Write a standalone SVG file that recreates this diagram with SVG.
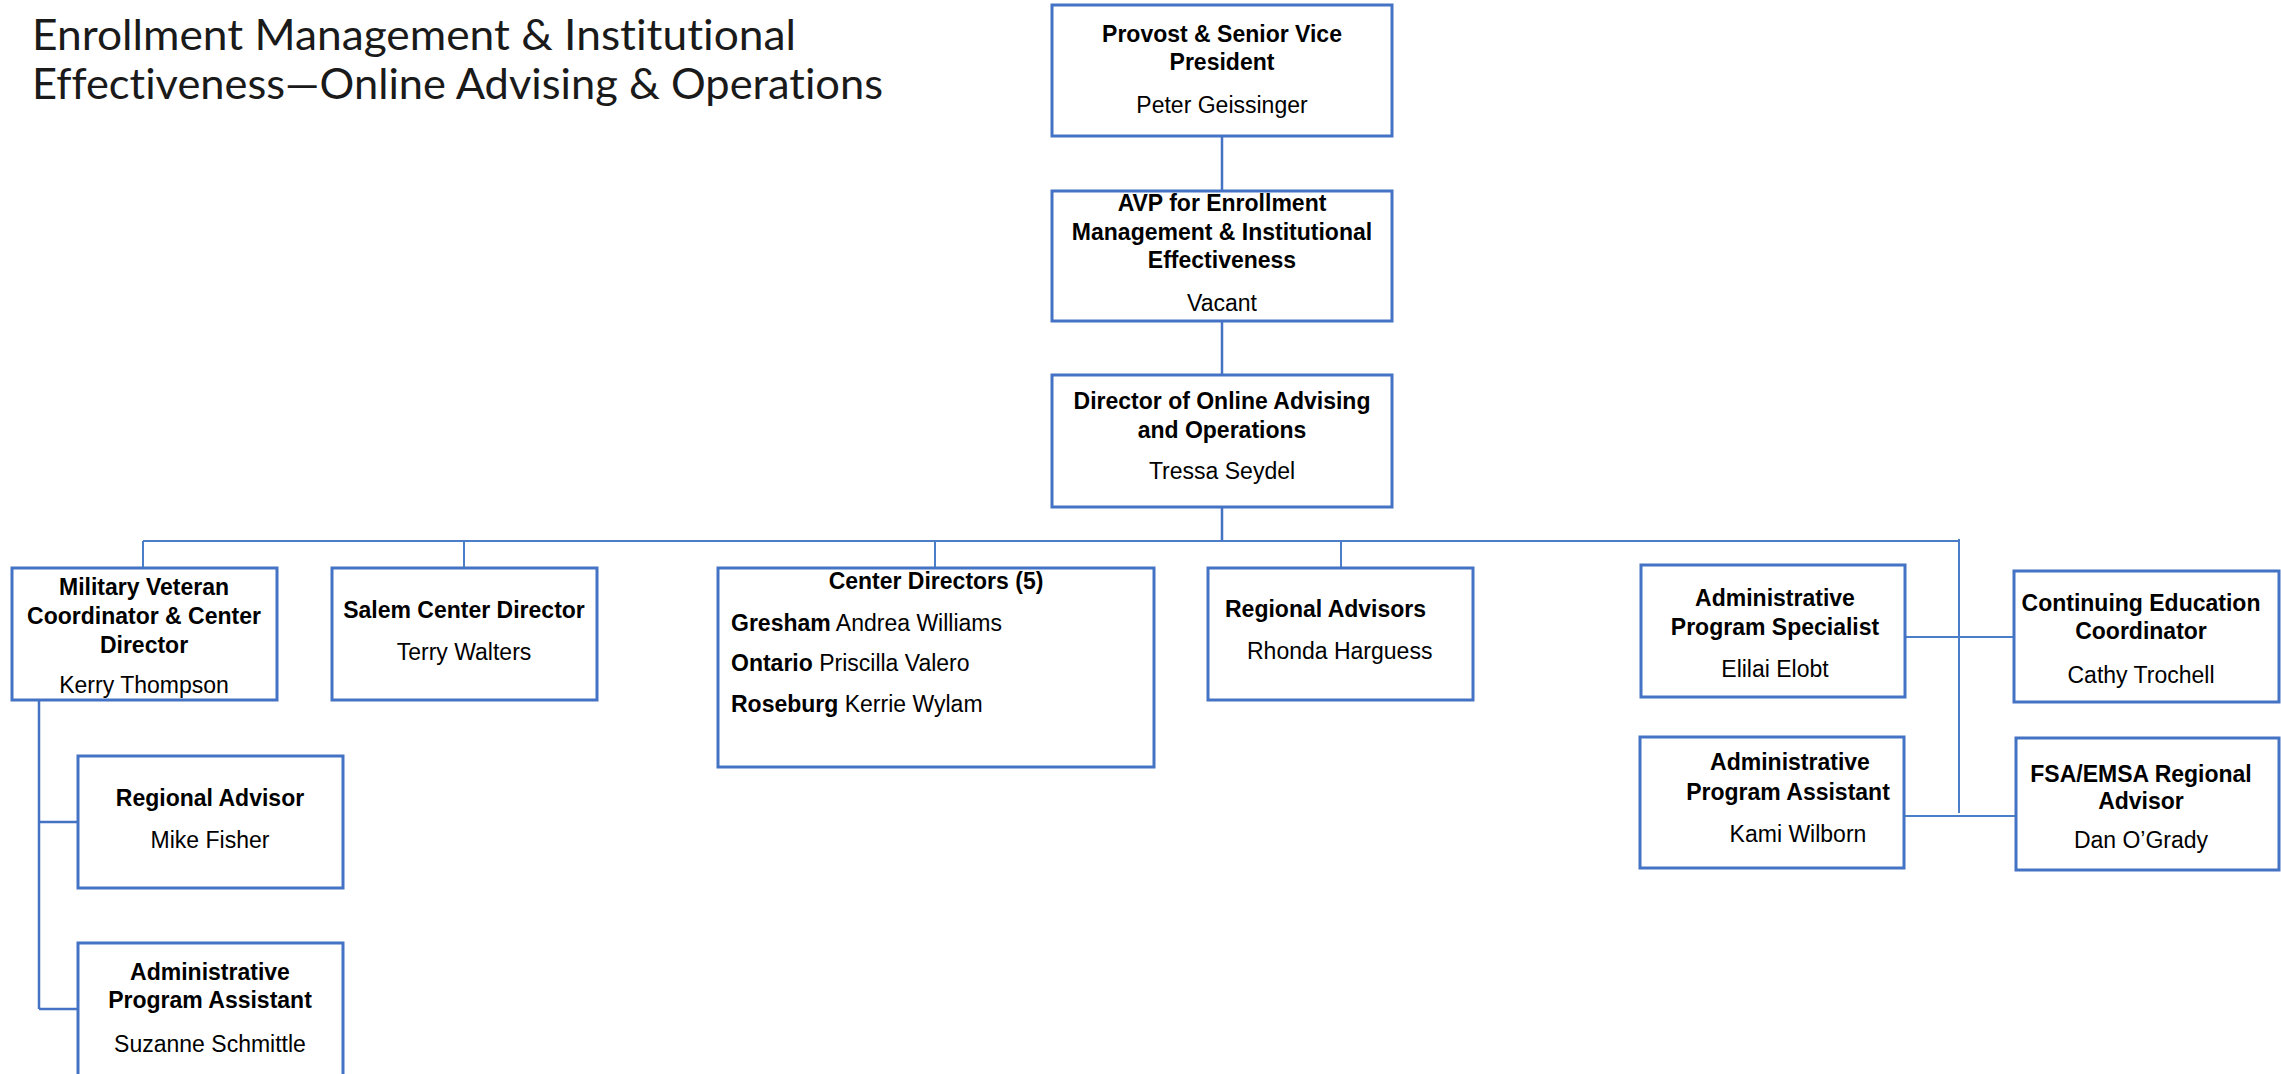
<svg xmlns="http://www.w3.org/2000/svg" width="2281" height="1074" viewBox="0 0 2281 1074">
<style>
.box{fill:#fff;stroke:#4472C4;stroke-width:3}
text{font-family:"Liberation Sans",Arial,sans-serif;font-size:23px;fill:#000}
.b{font-weight:bold}
.c{text-anchor:middle}
.title{font-family:Lato,"Liberation Sans",Arial,sans-serif;font-size:43px;font-weight:normal;fill:#1a1a1a;font-variant-ligatures:none}
.con{fill:none;stroke:#4472C4;stroke-width:2.5}
.bus{fill:none;stroke:#4A7EC8;stroke-width:2}
</style>
<rect width="2281" height="1074" fill="#fff"/>
<g id="title">
<text class="title" x="32" y="50" textLength="764" lengthAdjust="spacingAndGlyphs">Enrollment Management &amp; Institutional</text>
<text class="title" x="32" y="99" textLength="851" lengthAdjust="spacingAndGlyphs">Effectiveness—Online Advising &amp; Operations</text>
</g>
<g id="connectors">
<path class="con" d="M1222,136V191M1222,321V375M1222,507V541"/>
<path class="bus" d="M143,541H1959M143,541V568M464,541V568M935,541V568M1341,541V568M1959,539V813M1905,637H2014M1904,816H2016"/>
<path class="con" d="M39,700V1009M39,822H78M39,1009H78"/>
</g>
<g id="provost">
<rect class="box" x="1052" y="5" width="340" height="131"/>
<text class="b c" x="1222" y="42">Provost &amp; Senior Vice</text>
<text class="b c" x="1222" y="70">President</text>
<text class="c" x="1222" y="113">Peter Geissinger</text>
</g>
<g id="avp">
<rect class="box" x="1052" y="191" width="340" height="130"/>
<text class="b c" x="1222" y="211">AVP for Enrollment</text>
<text class="b c" x="1222" y="240">Management &amp; Institutional</text>
<text class="b c" x="1222" y="268">Effectiveness</text>
<text class="c" x="1222" y="311">Vacant</text>
</g>
<g id="director">
<rect class="box" x="1052" y="375" width="340" height="132"/>
<text class="b c" x="1222" y="409">Director of Online Advising</text>
<text class="b c" x="1222" y="438">and Operations</text>
<text class="c" x="1222" y="479">Tressa Seydel</text>
</g>
<g id="military">
<rect class="box" x="12" y="568" width="265" height="132"/>
<text class="b c" x="144" y="595">Military Veteran</text>
<text class="b c" x="144" y="624">Coordinator &amp; Center</text>
<text class="b c" x="144" y="653">Director</text>
<text class="c" x="144" y="693">Kerry Thompson</text>
</g>
<g id="salem">
<rect class="box" x="332" y="568" width="265" height="132"/>
<text class="b c" x="464" y="618">Salem Center Director</text>
<text class="c" x="464" y="660">Terry Walters</text>
</g>
<g id="center-directors">
<rect class="box" x="718" y="568" width="436" height="199"/>
<text class="b c" x="936" y="589">Center Directors (5)</text>
<text x="731" y="631"><tspan class="b">Gresham</tspan> Andrea Williams</text>
<text x="731" y="671"><tspan class="b">Ontario</tspan> Priscilla Valero</text>
<text x="731" y="712"><tspan class="b">Roseburg</tspan> Kerrie Wylam</text>
</g>
<g id="regional-advisors">
<rect class="box" x="1208" y="568" width="265" height="132"/>
<text class="b" x="1225" y="617">Regional Advisors</text>
<text x="1247" y="659">Rhonda Harguess</text>
</g>
<g id="admin-specialist">
<rect class="box" x="1641" y="565" width="264" height="132"/>
<text class="b c" x="1775" y="606">Administrative</text>
<text class="b c" x="1775" y="635">Program Specialist</text>
<text class="c" x="1775" y="677">Elilai Elobt</text>
</g>
<g id="admin-assistant-kami">
<rect class="box" x="1640" y="737" width="264" height="131"/>
<text class="b c" x="1790" y="770">Administrative</text>
<text class="b c" x="1788" y="800">Program Assistant</text>
<text class="c" x="1798" y="842">Kami Wilborn</text>
</g>
<g id="continuing-ed">
<rect class="box" x="2014" y="571" width="265" height="131"/>
<text class="b c" x="2141" y="611">Continuing Education</text>
<text class="b c" x="2141" y="639">Coordinator</text>
<text class="c" x="2141" y="683">Cathy Trochell</text>
</g>
<g id="fsa-emsa">
<rect class="box" x="2016" y="738" width="263" height="132"/>
<text class="b c" x="2141" y="782">FSA/EMSA Regional</text>
<text class="b c" x="2141" y="809">Advisor</text>
<text class="c" x="2141" y="848">Dan O’Grady</text>
</g>
<g id="regional-advisor-mike">
<rect class="box" x="78" y="756" width="265" height="132"/>
<text class="b c" x="210" y="806">Regional Advisor</text>
<text class="c" x="210" y="848">Mike Fisher</text>
</g>
<g id="admin-assistant-suzanne">
<rect class="box" x="78" y="943" width="265" height="140"/>
<text class="b c" x="210" y="980">Administrative</text>
<text class="b c" x="210" y="1008">Program Assistant</text>
<text class="c" x="210" y="1052">Suzanne Schmittle</text>
</g>
</svg>
